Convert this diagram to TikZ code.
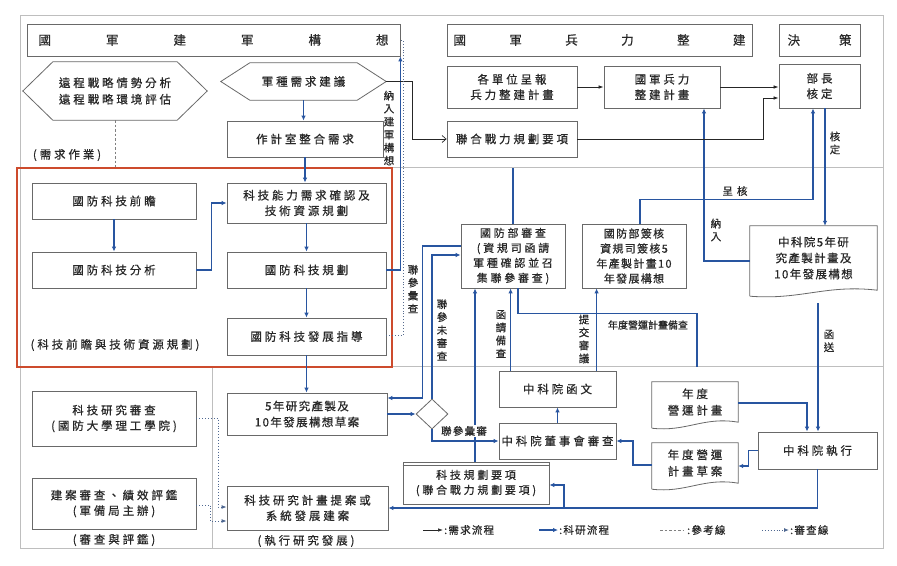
\documentclass[tikz,border=0pt]{standalone}
\usepackage{fontspec}
\setmainfont{Noto Sans CJK TC}
\newfontfamily\cjk[FakeBold=0.6]{Noto Sans CJK TC}
\newfontfamily\cjksp[LetterSpace=25,FakeBold=0.6]{Noto Sans CJK TC}
\newfontfamily\cjkmid[LetterSpace=12,FakeBold=0.6]{Noto Sans CJK TC}
\usetikzlibrary{arrows.meta,calc,shapes.geometric}
\definecolor{framec}{RGB}{190,190,190}
\definecolor{boxln}{RGB}{105,105,105}
\definecolor{flowblue}{RGB}{40,85,160}
\definecolor{redbox}{RGB}{205,75,45}
\definecolor{txt}{RGB}{40,40,40}
\newcommand\hexpath[2]{\draw[boxln, line width=0.8pt] (#1.west) -- ([xshift=#2]#1.north west) -- ([xshift=-#2]#1.north east) -- (#1.east) -- ([xshift=-#2]#1.south east) -- ([xshift=#2]#1.south west) -- cycle;}
\newcommand\docpath[1]{\draw[boxln, line width=0.8pt] ([yshift=-6pt]#1.south west) -- (#1.north west) -- (#1.north east) -- (#1.south east) .. controls ($(#1.south east)!0.4!(#1.south west)+(0,-6)$) and ($(#1.south west)!0.4!(#1.south east)+(0,10)$) .. ([yshift=-6pt]#1.south west);}
\begin{document}
\begin{tikzpicture}[x=1pt,y=-1pt,
  box/.style={draw=boxln, line width=0.8pt, fill=white, inner sep=1pt, align=center, text=txt, font=\cjksp\fontsize{11.5}{15.5}\selectfont},
  plain/.style={inner sep=1pt, align=center, text=txt, font=\cjksp\fontsize{11.5}{16.5}\selectfont},
  hdr/.style={draw=boxln, line width=0.8pt, inner sep=0pt, text=txt, font=\cjk\fontsize{12.5}{14}\selectfont},
  bf/.style={draw=flowblue, line width=1.4pt, -{Latex[length=5pt,width=4.5pt]}},
  bl/.style={draw=flowblue, line width=1.4pt},
  kf/.style={draw=black!85, line width=0.7pt, -{Latex[length=5pt,width=3.5pt]}},
  ko/.style={draw=black!85, line width=0.7pt, -{Straight Barb[length=4pt,width=7pt]}},
  refl/.style={draw=gray, line width=0.8pt, dash pattern=on 2.5pt off 2pt},
  rv/.style={draw=flowblue!55!gray, line width=0.9pt, dotted, -{Latex[length=5pt,width=4pt]}},
  rvl/.style={draw=flowblue!45!gray, line width=0.9pt, dotted},
  vlab/.style={align=center, inner sep=0pt, text=txt, font=\cjk\fontsize{10.5}{13}\selectfont},
  lab/.style={inner sep=0pt, text=txt, font=\cjkmid\fontsize{10.5}{13}\selectfont},
  plab/.style={inner sep=0pt, text=txt, font=\cjksp\fontsize{11.5}{13}\selectfont}
]
\useasboundingbox (0,0) rectangle (897,565);
\fill[white] (0,0) rectangle (897,565);
% frame
\draw[framec, line width=0.8pt] (20,15) rectangle (883,548);
\draw[framec, line width=0.8pt] (20,167) -- (883,167);
\draw[framec, line width=0.8pt] (20,366) -- (883,366);
\draw[framec, line width=0.8pt] (212,366) -- (212,548);

% headers
\node[hdr, minimum width=373pt, minimum height=32pt] (hdrA) at (213.5,40) {\makebox[350pt][s]{國 軍 建 軍 構 想}};
\node[hdr, minimum width=305pt, minimum height=32pt] (hdrB) at (599.5,40) {\makebox[292pt][s]{國 軍 兵 力 整 建}};
\node[hdr, minimum width=81pt, minimum height=32pt] (hdrC) at (819.5,40) {\makebox[64pt][s]{決 策}};

% top band left
\node[plain, minimum width=184pt, minimum height=58pt] (hexA) at (115,91) {遠程戰略情勢分析\\遠程戰略環境評估};
\hexpath{hexA}{30pt}
\node[plain, minimum width=165pt, minimum height=37pt] (hexB) at (303.5,81.5) {軍種需求建議};
\hexpath{hexB}{29pt}
\node[box, minimum width=156pt, minimum height=36pt] (zuoji) at (305,139) {作計室整合需求};
\node[plab] (lxq) at (67,155) {(需求作業)};

% red area
\node[draw=redbox, line width=2.2pt, minimum width=375pt, minimum height=199pt, inner sep=0pt] (area) at (204.5,267.5) {};
\node[box, minimum width=164pt, minimum height=36pt] (qianzhan) at (114,201) {國防科技前瞻};
\node[box, minimum width=164pt, minimum height=36pt] (fenxi) at (114,270) {國防科技分析};
\node[box, minimum width=159pt, minimum height=40pt] (nengli) at (306.5,203) {科技能力需求確認及\\技術資源規劃};
\node[box, minimum width=159pt, minimum height=36pt] (guihua) at (306.5,270) {國防科技規劃};
\node[box, minimum width=159pt, minimum height=37pt] (zhidao) at (306.5,336.5) {國防科技發展指導};
\node[plab] (lqz) at (115,345) {(科技前瞻與技術資源規劃)};

% top band right
\node[box, minimum width=130pt, minimum height=42pt] (gedanwei) at (512,87) {各單位呈報\\兵力整建計畫};
\node[box, minimum width=116pt, minimum height=42pt] (bingli) at (662,87) {國軍兵力\\整建計畫};
\node[box, minimum width=81pt, minimum height=44pt] (buzhang) at (819.5,86) {部長\\核定};
\node[box, minimum width=130pt, minimum height=36pt] (lianhe) at (512,139) {聯合戰力規劃要項};

% middle band right
\node[box, minimum width=104pt, minimum height=64pt, font=\cjksp\fontsize{11}{15}\selectfont] (shencha) at (513,256) {國防部審查\\(資規司函請\\軍種確認並召\\集聯參審查)};
\node[box, minimum width=104pt, minimum height=64pt, font=\cjkmid\fontsize{11}{15}\selectfont] (qianhe) at (634,256) {國防部簽核\\資規司簽核5\\年產製計畫10\\年發展構想};
\node[plain, minimum width=127pt, minimum height=64pt, font=\cjkmid\fontsize{11.5}{16}\selectfont] (doc5yr) at (813.5,258) {中科院5年研\\究產製計畫及\\10年發展構想};
\docpath{doc5yr}

% bottom band
\node[box, minimum width=164pt, minimum height=55pt] (yjsc) at (114,418.5) {科技研究審查\\(國防大學理工學院)};
\node[box, minimum width=164pt, minimum height=51pt] (jasc) at (114,503.5) {建案審查、績效評鑑\\(軍備局主辦)};
\node[plab] (lsp) at (114,540) {(審查與評鑑)};
\node[box, minimum width=160pt, minimum height=42pt, font=\cjkmid\fontsize{11.5}{16}\selectfont] (draft5) at (307,414) {5年研究產製及\\10年發展構想草案};
\node[box, minimum width=161pt, minimum height=44pt] (jihua) at (307.5,508) {科技研究計畫提案或\\系統發展建案};
\node[plab] (lzx) at (306,541) {(執行研究發展)};
\node[draw=boxln, line width=0.8pt, shape=diamond, minimum width=32pt, minimum height=30pt, inner sep=0pt] (dia) at (432,414) {};
\node[box, minimum width=117pt, minimum height=36pt] (hanwen) at (557.5,389) {中科院函文};
\node[box, minimum width=117pt, minimum height=36pt] (dongshi) at (557.5,441) {中科院董事會審查};
\node[plain, minimum width=86pt, minimum height=40pt] (niandu) at (695,402) {年度\\營運計畫};
\docpath{niandu}
\node[plain, minimum width=86pt, minimum height=40pt] (caoan) at (695,463) {年度營運\\計畫草案};
\docpath{caoan}
\node[box, minimum width=119pt, minimum height=37pt] (zhixing) at (817.5,450.5) {中科院執行};
\node[box, minimum width=146pt, minimum height=42pt, font=\cjksp\fontsize{11}{15}\selectfont] (yaoxiang) at (476,483) {科技規劃要項\\(聯合戰力規劃要項)};
\draw[boxln, line width=0.6pt] ([yshift=-4pt]yaoxiang.north west) -- ([yshift=-4pt]yaoxiang.north east);

% ---- blue research flow
\draw[bf] (hexB.south) -- (hexB.south |- zuoji.north);
\draw[bf] (zuoji.south) -- (zuoji.south |- nengli.north);
\draw[bf] (qianzhan.south) -- (fenxi.north);
\draw[bf] (fenxi.east) -- ++(15,0) |- (nengli.west);
\draw[bf] (nengli.south) -- (guihua.north);
\draw[bf] (guihua.south) -- (zhidao.north);
\draw[bf] (zhidao.south) -- (zhidao.south |- draft5.north);
\draw[bf] (guihua.east) -| (hdrA.south east);
\draw[bf] ([yshift=10pt]shencha.west) -- ++(-38,0) |- ([yshift=16pt]draft5.east);
\draw[bf] (dia.north) |- ([yshift=1pt]shencha.west);
\draw[bf] (draft5.east) -- (dia.west);
\draw[bf] (dia.south) |- (dongshi.west);
\draw[bf] ([xshift=-1pt]yaoxiang.north) -- ([xshift=-1pt]yaoxiang.north |- shencha.south);
\draw[bf] ([xshift=12pt]hanwen.north west) -- ([xshift=12pt]hanwen.north west |- shencha.south);
\draw[bf] ([xshift=98pt]hanwen.north west) -- ([xshift=98pt]hanwen.north west |- qianhe.south);
\coordinate (nbEnd) at (697,367);
\draw[bl] ([xshift=5pt]shencha.south) -- ++(0,25) -| (nbEnd);
\coordinate (shTop) at (513,168);
\draw[bl] (shencha.north) -- (shTop);
\draw[bf] ([yshift=-3pt]doc5yr.west) -| ([xshift=42pt]bingli.south);
\draw[bf] ([xshift=6pt]qianhe.north) -- ++(0,-24) -| ([xshift=-6.5pt]buzhang.south);
\draw[bf] ([xshift=5.5pt]buzhang.south) -- ([xshift=5.5pt]buzhang.south |- doc5yr.north);
\coordinate (docBot) at (818,303);
\draw[bf] (docBot) -- (docBot |- zhixing.north);
\draw[bf] ([yshift=-1pt]niandu.east) -| ([xshift=-10.5pt]zhixing.north);
\draw[bf] (zhixing.west) -- ++(-9,0) |- ([yshift=-3pt]caoan.east);
\draw[bf] ([yshift=-2pt]caoan.west) -- ++(-19,0) |- (dongshi.east);
\draw[bf] (dongshi.north) -- (hanwen.south);
\draw[bf] (zhixing.south) |- (jihua.east);
\coordinate (br) at (564,508);
\draw[bf] (br) |- ([yshift=-2pt]yaoxiang.east);

% ---- black demand flow
\draw[kf] (gedanwei.east) -- (bingli.west);
\draw[kf] (bingli.east) -- (bingli.east -| buzhang.west);
\draw[kf] (lianhe.east) -- ++(186,0) |- ([yshift=-12pt]buzhang.west);
\draw[ko] (hexB.east) -- ++(26,0) |- (lianhe.west);

% ---- reference / review lines
\draw[refl] (hexA.south) -- (hexA.south |- area.north);
\draw[rvl] ([yshift=1.5pt]zhidao.east) -| ([xshift=3pt]hdrA.east) -- (hdrA.east);
\draw[rv] (yjsc.east) -- ++(22,0) |- ([yshift=1pt]jihua.west);
\draw[rv] ([yshift=-1.5pt]jasc.east) -- ++(14,0) |- ([yshift=-13pt]jihua.west);

% ---- labels
\node[vlab] (l1) at (389,128) {納\\入\\建\\軍\\構\\想};
\node[vlab] (l2) at (413,289) {聯\\參\\彙\\查};
\node[vlab] (l3) at (442,330) {聯\\參\\未\\審\\查};
\node[vlab] (l4) at (501,334) {函\\請\\備\\查};
\node[vlab] (l5) at (584,339) {提\\交\\審\\議};
\node[lab, font=\cjk\fontsize{10}{12}\selectfont] (l6) at (648,325) {年度營運計畫備查};
\node[vlab] (l7) at (716,230) {納\\入};
\node[lab] (l8) at (735,191) {呈\hspace{4pt}核};
\node[vlab] (l9) at (835,143) {核\\定};
\node[vlab] (l10) at (829,341) {函\\送};
\node[lab, fill=white, inner sep=1pt] (l11) at (464,431) {聯參彙審};

% ---- legend
\coordinate (g1a) at (423,530); \coordinate (g1b) at (443,530);
\draw[kf] (g1a) -- (g1b);
\node[lab, anchor=west] (t1) at (444,530) {:需求流程};
\coordinate (g2a) at (539,530); \coordinate (g2b) at (558,530);
\draw[bf] (g2a) -- (g2b);
\node[lab, anchor=west] (t2) at (559,530) {:科研流程};
\coordinate (g3a) at (660,530); \coordinate (g3b) at (684,530);
\draw[refl] (g3a) -- (g3b);
\node[lab, anchor=west] (t3) at (687,530) {:參考線};
\coordinate (g4a) at (762,530); \coordinate (g4b) at (789,530);
\draw[rv] (g4a) -- (g4b);
\node[lab, anchor=west] (t4) at (790,530) {:審查線};
\end{tikzpicture}
\end{document}
